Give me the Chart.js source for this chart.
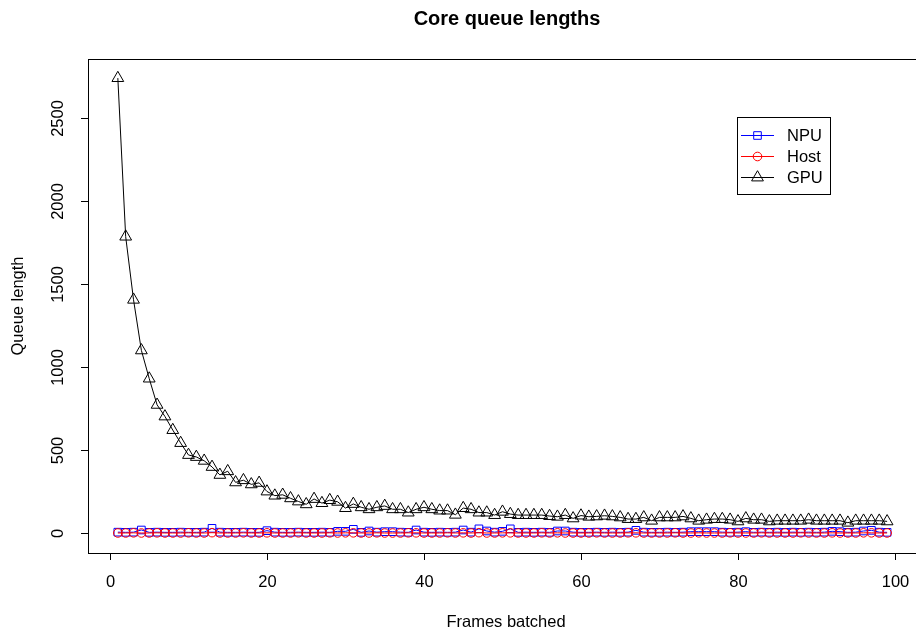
<!DOCTYPE html>
<html>
<head>
<meta charset="utf-8">
<script src="https://cdn.jsdelivr.net/npm/chart.js@4/dist/chart.umd.min.js"></script>
<style>
  html, body { margin: 0; padding: 0; background: #ffffff; }
  #wrap { width: 916px; height: 631px; }
</style>
</head>
<body>
<div id="wrap"><canvas id="c" width="916" height="631"></canvas></div>
<script>
// ---- data ----
const frames = [1,2,3,4,5,6,7,8,9,10,11,12,13,14,15,16,17,18,19,20,21,22,23,24,25,26,27,28,29,30,
  31,32,33,34,35,36,37,38,39,40,41,42,43,44,45,46,47,48,49,50,51,52,53,54,55,56,57,58,59,60,
  61,62,63,64,65,66,67,68,69,70,71,72,73,74,75,76,77,78,79,80,81,82,83,84,85,86,87,88,89,90,
  91,92,93,94,95,96,97,98,99];

const npuQueue = [5,4,5,18,4,5,4,4,5,4,4,5,28,5,4,4,5,4,4,14,5,4,4,5,4,4,5,4,10,10,
  22,4,12,5,8,8,5,4,18,5,4,5,4,5,18,5,25,12,5,10,25,4,5,4,5,4,12,12,5,4,
  4,5,4,5,4,5,16,5,4,4,5,4,5,8,8,8,8,5,4,5,8,4,5,4,5,4,5,4,5,4,
  5,10,8,4,5,12,16,5,4];

const hostQueue = [0,0,1,0,0,1,0,0,0,1,0,0,2,0,0,0,1,0,0,1,0,0,0,1,0,0,0,1,0,1,
  1,0,0,1,0,0,0,1,1,0,0,0,1,0,1,0,2,0,0,1,1,0,0,0,1,0,1,0,0,0,
  0,1,0,0,0,1,1,0,0,0,0,1,0,0,1,0,0,0,1,0,0,0,1,0,0,0,0,1,0,0,
  0,1,0,0,0,1,1,0,0];

const gpuQueue = [2740,1785,1405,1100,930,772,702,620,542,470,458,435,398,350,372,305,318,293,302,250,
  225,230,209,190,173,205,180,198,188,150,175,155,143,155,163,143,143,123,143,155,
  143,135,135,110,150,143,123,123,108,128,114,108,108,108,108,102,98,108,88,105,
  98,100,104,100,94,84,84,94,74,94,94,94,100,88,74,80,84,84,80,70,
  88,80,80,70,74,74,74,74,80,74,74,74,74,62,74,74,74,74,70];

const xTicks = [0, 20, 40, 60, 80, 100];
const yTicks = [0, 500, 1000, 1500, 2000, 2500];

const seriesNames = ['NPU', 'Host', 'GPU'];
const titleText = 'Core queue lengths';
const xTitle = 'Frames batched';
const yTitle = 'Queue length';

// ---- build ----
const toXY = (vals) => frames.map((f, i) => ({ x: f, y: vals[i] }));

const FONT = '"Liberation Sans", Arial, Helvetica, sans-serif';

function drawMarker(ctx, style, x, y, color) {
  ctx.save();
  ctx.strokeStyle = color;
  ctx.lineWidth = 1;
  ctx.beginPath();
  if (style === 'rect') {
    ctx.rect(x - 3.8, y - 3.8, 7.6, 7.6);
  } else if (style === 'circle') {
    ctx.arc(x, y, 4.3, 0, Math.PI * 2);
  } else {
    ctx.moveTo(x, y - 6.8);
    ctx.lineTo(x + 5.9, y + 3.4);
    ctx.lineTo(x - 5.9, y + 3.4);
    ctx.closePath();
  }
  ctx.stroke();
  ctx.restore();
}

const rBase = {
  id: 'rBase',
  afterDraw(chart) {
    const ctx = chart.ctx;
    const a = chart.chartArea;
    const xs = chart.scales.x, ys = chart.scales.y;
    ctx.save();
    ctx.strokeStyle = '#000';
    ctx.lineWidth = 1;
    // plot box
    ctx.strokeRect(Math.round(a.left) + 0.5, Math.round(a.top) + 0.5, a.right - a.left + 4, Math.round(a.bottom - a.top));
    ctx.fillStyle = '#000';
    ctx.font = '16.5px ' + FONT;
    // x ticks
    ctx.textAlign = 'center';
    ctx.textBaseline = 'middle';
    xTicks.forEach(v => {
      const px = Math.round(xs.getPixelForValue(v)) + 0.5;
      ctx.beginPath();
      ctx.moveTo(px, a.bottom);
      ctx.lineTo(px, a.bottom + 7);
      ctx.stroke();
      ctx.fillText(String(v), px, a.bottom + 29);
    });
    // y ticks
    yTicks.forEach(v => {
      const py = Math.round(ys.getPixelForValue(v)) + 0.5;
      ctx.beginPath();
      ctx.moveTo(a.left - 7, py);
      ctx.lineTo(a.left, py);
      ctx.stroke();
      ctx.save();
      ctx.translate(a.left - 30, py);
      ctx.rotate(-Math.PI / 2);
      ctx.fillText(String(v), 0, 0);
      ctx.restore();
    });
    // axis titles
    ctx.fillText(xTitle, 506, 622);
    ctx.save();
    ctx.translate(18, (a.top + a.bottom) / 2);
    ctx.rotate(-Math.PI / 2);
    ctx.fillText(yTitle, 0, 0);
    ctx.restore();
    // main title
    ctx.font = 'bold 20px ' + FONT;
    ctx.fillText(titleText, 507, 19);
    // legend
    const lx = 737.5, ly = 117.5, lw = 93, lh = 77;
    ctx.fillStyle = '#fff';
    ctx.fillRect(lx, ly, lw, lh);
    ctx.strokeStyle = '#000';
    ctx.strokeRect(lx, ly, lw, lh);
    ctx.font = '16.5px ' + FONT;
    ctx.textAlign = 'left';
    const rows = [135, 156, 177];
    const order = [0, 1, 2];
    order.forEach((di, k) => {
      const ds = chart.data.datasets.find(d => d.label === seriesNames[di]);
      const y = rows[k] + 0.5;
      ctx.strokeStyle = ds.borderColor;
      ctx.beginPath();
      ctx.moveTo(741, y);
      ctx.lineTo(774, y);
      ctx.stroke();
      drawMarker(ctx, ds.pointStyle, 757.5, y, ds.borderColor);
      ctx.fillStyle = '#000';
      ctx.fillText(ds.label, 787, rows[k] + 1);
    });
    ctx.restore();
  }
};

new Chart(document.getElementById('c'), {
  type: 'line',
  data: {
    datasets: [
      { label: seriesNames[2], data: toXY(gpuQueue), borderColor: '#000000', pointStyle: 'triangle', pointRadius: 6.8, order: 3 },
      { label: seriesNames[0], data: toXY(npuQueue), borderColor: '#0000ff', pointStyle: 'rect', pointRadius: 5.4, order: 2 },
      { label: seriesNames[1], data: toXY(hostQueue), borderColor: '#ff0000', pointStyle: 'circle', pointRadius: 4.3, order: 1 }
    ].map(d => Object.assign({
      borderWidth: 1,
      pointBorderWidth: 1,
      pointBackgroundColor: 'rgba(0,0,0,0)',
      pointBorderColor: d.borderColor,
      tension: 0,
      fill: false
    }, d))
  },
  options: {
    responsive: false,
    devicePixelRatio: 1,
    animation: false,
    layout: { autoPadding: false, padding: { left: 88, top: 59, right: 0, bottom: 78 } },
    plugins: { legend: { display: false }, title: { display: false }, tooltip: { enabled: false } },
    scales: {
      x: { type: 'linear', min: -2.8, max: 102.68, display: false },
      y: { type: 'linear', min: -120.5, max: 2855, display: false }
    }
  },
  plugins: [rBase]
});
</script>
</body>
</html>
